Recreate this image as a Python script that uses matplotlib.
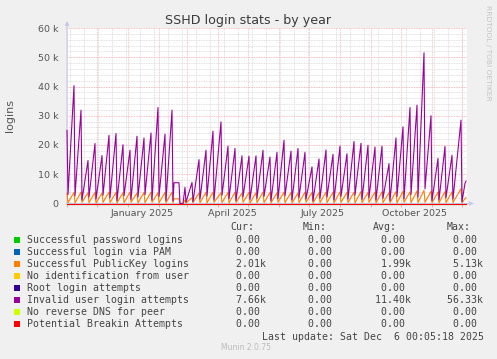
import numpy as np
import matplotlib.pyplot as plt
import matplotlib.dates as mdates
from matplotlib.ticker import MultipleLocator, FuncFormatter
from matplotlib.patches import Rectangle

# graph starts 400 days before the last update
start = np.datetime64('2024-11-01')
end = np.datetime64('2025-12-06')

# days (from start) where the log counter was reset, value seen that day
reset_day = [0, 7, 14, 21, 28, 35, 42, 49, 56, 63, 70, 77, 84, 91, 98, 105,
             118, 125, 132, 139, 146, 154, 161, 168, 175, 182, 189, 196, 203, 210,
             217, 224, 231, 238, 245, 252, 259, 266, 273, 280, 287, 294, 301, 308,
             315, 322, 329, 336, 343, 350, 357, 364, 371, 378, 385, 394]
inv_peak = [25.0, 40.3, 31.9, 14.7, 20.5, 16.4, 23.3, 23.9, 20.1, 18.2, 23.0, 22.4, 24.1, 32.8, 23.7, 31.9,
            5.5, 7.2, 15.0, 18.2, 24.7, 27.9, 19.6, 18.8, 16.3, 16.2, 16.3, 18.2, 15.9, 17.5,
            21.6, 17.9, 18.8, 17.5, 12.5, 15.2, 18.3, 16.8, 19.6, 17.0, 21.2, 20.6, 19.9, 19.3,
            19.6, 13.6, 22.4, 26.2, 32.8, 33.6, 51.5, 30.0, 15.4, 19.5, 16.5, 28.5]
inv_low = [3.0, 2.6, 1.2, 2.2, 1.5, 2.8, 2.0, 1.0, 2.6, 1.4, 2.2, 3.0, 1.2, 2.4, 1.0, 0.8,
           0.5, 0.6, 1.5, 2.5, 1.2, 2.8, 1.6, 1.0, 2.2, 1.4, 1.8, 2.4, 1.0, 1.6,
           2.6, 1.2, 2.0, 1.5, 0.9, 1.8, 2.2, 1.2, 2.4, 1.5, 2.8, 1.4, 2.0, 1.2,
           1.8, 1.0, 2.4, 1.6, 3.0, 2.2, 5.0, 1.0, 1.2, 2.0, 1.5, 0.6]
pk_peak = [3.6, 3.8, 3.9, 3.7, 3.8, 3.6, 3.9, 3.8, 3.7, 3.9, 3.6, 3.8, 3.9, 3.7, 3.8, 3.9,
           1.2, 2.0, 3.6, 3.8, 3.9, 3.7, 3.8, 3.9, 3.6, 3.8, 3.7, 3.9, 3.8, 3.7,
           3.9, 3.8, 3.6, 3.9, 3.8, 3.7, 3.9, 3.8, 4.0, 3.8, 3.9, 4.1, 3.8, 3.9,
           4.0, 3.7, 4.1, 4.2, 4.0, 4.3, 4.5, 4.2, 3.9, 4.1, 4.0, 5.1]
pk_low = [0.3, 0.2, 0.4, 0.3, 0.2, 0.4, 0.3, 0.2, 0.3, 0.4, 0.2, 0.3, 0.4, 0.2, 0.3, 0.3,
          0.2, 0.3, 0.3, 0.2, 0.4, 0.3, 0.2, 0.3, 0.4, 0.2, 0.3, 0.3, 0.2, 0.4,
          0.3, 0.2, 0.3, 0.4, 0.2, 0.3, 0.3, 0.2, 0.4, 0.3, 0.2, 0.3, 0.4, 0.2,
          0.3, 0.3, 0.2, 0.4, 0.3, 0.3, 0.4, 0.3, 0.2, 0.3, 0.3, 0.3]

# outage in february: counter stuck, then empty
gap_day = [107, 112, 113, 116]
gap_inv = [7.1, 7.1, 0.0, 0.0]
gap_pk = [1.6, 1.6, 0.0, 0.0]
# last days of the graph
tail_day = [398, 399]
tail_inv = [6.9, 7.66]
tail_pk = [1.6, 2.01]

names = ['Successful password logins', 'Successful login via PAM', 'Successful PublicKey logins',
         'No identification from user', 'Root login attempts', 'Invalid user login attempts',
         'No reverse DNS for peer', 'Potential Breakin Attempts']
colors = ['#00CC00', '#0066B3', '#FF8000', '#FFCC00', '#330099', '#990099', '#CCFF00', '#FF0000']
cur = ['0.00 ', '0.00 ', '2.01k', '0.00 ', '0.00 ', '7.66k', '0.00 ', '0.00 ']
mins = ['0.00 '] * 8
avg = ['0.00 ', '0.00 ', '1.99k', '0.00 ', '0.00 ', '11.40k', '0.00 ', '0.00 ']
maxs = ['0.00 ', '0.00 ', '5.13k', '0.00 ', '0.00 ', '56.33k', '0.00 ', '0.00 ']


def build(peaks, lows, gap_v, tail_v):
    d, v = [], []
    for i, day in enumerate(reset_day):
        d += [day, day + 1]
        v += [peaks[i], lows[i]]
        if day == 105:
            d += gap_day
            v += gap_v
    d += tail_day
    v += tail_v
    dates = start + np.array(d, dtype='timedelta64[D]')
    return dates, np.array(v) * 1000


W, H = 497, 359
fig = plt.figure(figsize=(W / 100, H / 100), dpi=100, facecolor='#F0F0F0')
ax = fig.add_axes([67 / W, 1 - 203.5 / H, 400 / W, 175.5 / H])
ax.set_facecolor('white')
ax.set_axisbelow(True)

full = np.array([start, start + np.timedelta64(399, 'D')])
inv_x, inv_y = build(inv_peak, inv_low, gap_inv, tail_inv)
pk_x, pk_y = build(pk_peak, pk_low, gap_pk, tail_pk)
for name, c in zip(names, colors):
    if name.startswith('Successful PublicKey'):
        ax.plot(pk_x, pk_y, color=c, lw=0.8, clip_on=False, zorder=3)
    elif name.startswith('Invalid'):
        ax.plot(inv_x, inv_y, color=c, lw=0.8, clip_on=False, zorder=3)
    else:
        ax.plot(full, [0, 0], color=c, lw=0.75, clip_on=False, zorder=3)

ax.set_xlim(start, end)
ax.set_ylim(0, 60000)
for s in ax.spines.values():
    s.set_visible(False)

# grid: grey minor, red major
dot = (0, (1, 1))
ax.yaxis.set_major_locator(MultipleLocator(10000))
ax.yaxis.set_minor_locator(MultipleLocator(2000))
ax.yaxis.grid(True, which='minor', color='#D6D6D6', ls=dot, lw=0.6)
ax.yaxis.grid(True, which='major', color='#F2A8A8', ls=dot, lw=0.6)
ax.yaxis.set_major_formatter(FuncFormatter(lambda v, p: '0' if v == 0 else '%d k' % (v / 1000)))

ax.xaxis.set_minor_locator(mdates.MonthLocator())
ax.xaxis.grid(True, which='minor', color='#F4B4B4', ls=dot, lw=0.6)
ax.xaxis.set_major_locator(mdates.MonthLocator(bymonth=(1, 4, 7, 10), bymonthday=15))
ax.xaxis.set_major_formatter(mdates.DateFormatter('%B %Y'))
weeks = np.arange(np.datetime64('2024-11-04'), end, np.timedelta64(14, 'D'))
for t in weeks:
    ax.axvline(t, color='#D6D6D6', ls=dot, lw=0.6, zorder=0)

ax.tick_params(which='both', length=0, labelsize=6.8, colors='#555555')
ax.tick_params(axis='x', which='minor', length=2, color='#F2A0A0', width=0.6)
ax.tick_params(axis='x', pad=3.6)
ax.tick_params(axis='y', pad=6)

# axis arrows
arrow_c = '#C8C8F0'
ax.annotate('', xy=(0, 1 + 7 / 175), xytext=(0, 0), xycoords='axes fraction',
            arrowprops=dict(arrowstyle='-|>', color=arrow_c, lw=0.8, mutation_scale=6,
                            shrinkA=0, shrinkB=0), zorder=1)
ax.annotate('', xy=(1 + 7 / 400, 0), xytext=(0, 0), xycoords='axes fraction',
            arrowprops=dict(arrowstyle='-|>', color=arrow_c, lw=0.8, mutation_scale=6,
                            shrinkA=0, shrinkB=0), zorder=1)


def px(x, y):
    return x / W, 1 - y / H


fig.text(*px(248.5, 24), 'SSHD login stats - by year', ha='center', va='baseline',
         fontsize=9.1, color='#3a3a3a')
fig.text(*px(10, 115), 'logins', rotation=90, ha='center', va='center', fontsize=8, color='#555555')
fig.text(*px(488, 5), 'RRDTOOL / TOBI OETIKER', rotation=270, ha='center', va='top',
         fontsize=5.4, color='#C4C4C4')

mono = dict(family='DejaVu Sans Mono', fontsize=7.1, color='#444444', va='baseline')
fig.text(*px(230, 230.5), 'Cur:', **mono)
fig.text(*px(302.7, 230.5), 'Min:', **mono)
fig.text(*px(373, 230.5), 'Avg:', **mono)
fig.text(*px(446.7, 230.5), 'Max:', **mono)
for i, name in enumerate(names):
    yc = 239.5 + 12 * i
    fig.add_artist(Rectangle(px(14, yc + 3), 6 / W, 6 / H, transform=fig.transFigure,
                             facecolor=colors[i], edgecolor='none'))
    fig.text(*px(27, yc + 3.8), name, **mono)
    for col, start_x in zip((cur, mins, avg, maxs), (224, 296.1, 368.8, 441.4)):
        s = col[i]
        field = s[:-1].rjust(6) + s[-1]
        fig.text(*px(start_x, yc + 3.8), field, **mono)
fig.text(*px(261.7, 339.5), 'Last update: Sat Dec  6 00:05:18 2025', **mono)
fig.text(*px(246, 350.5), 'Munin 2.0.75', ha='center', va='baseline', fontsize=5.5, color='#BBBBBB')

fig.savefig('out.png', dpi=100, facecolor=fig.get_facecolor())
